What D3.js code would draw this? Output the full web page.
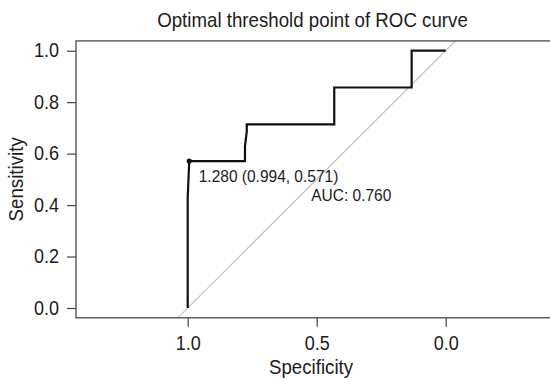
<!DOCTYPE html>
<html>
<head>
<meta charset="utf-8">
<script src="https://cdn.jsdelivr.net/npm/d3@7/dist/d3.min.js"></script>
<style>
  html, body { margin: 0; padding: 0; background: #fff; }
  svg text { font-family: "Liberation Sans", Arial, Helvetica, sans-serif; fill: #1c1c1c; }
</style>
</head>
<body>
<svg id="chart" width="550" height="379"></svg>
<script>
// ROC curve data (specificity, sensitivity)
const specificity = [1, 1, 0.994, 0.778, 0.778, 0.771, 0.771, 0.432, 0.432, 0.132, 0.132, 0];
const sensitivity = [0, 0.429, 0.571, 0.571, 0.629, 0.686, 0.714, 0.714, 0.857, 0.857, 1, 1];
const xTicks = [1.0, 0.5, 0.0];
const yTicks = [0.0, 0.2, 0.4, 0.6, 0.8, 1.0];
const threshold = { value: 1.280, spec: 0.994, sens: 0.571 };
const aucValue = 0.760;
const titleText = "Optimal threshold point of ROC curve";

const SY = 1.08; // vertical stretch of glyphs seen in the reference

const svg = d3.select("#chart");
const x = d3.scaleLinear().domain([1, 0]).range([187.7, 445.7]);
const y = d3.scaleLinear().domain([0, 1]).range([308, 50.7]);

const xMin = 1.433, xMax = -0.433, yMin = -0.038, yMax = 1.038;
const bx0 = x(xMin), bx1 = x(xMax), by0 = y(yMax), by1 = y(yMin);

svg.append("defs").append("clipPath").attr("id", "clip")
  .append("rect").attr("x", bx0).attr("y", by0).attr("width", bx1 - bx0).attr("height", by1 - by0);

function label(px, py, txt, size, anchor, rot) {
  return svg.append("text")
    .attr("transform", `translate(${px},${py})` + (rot ? ` rotate(${rot})` : "") + ` scale(1,${SY})`)
    .attr("text-anchor", anchor || "start")
    .attr("font-size", size)
    .text(txt);
}

// diagonal reference line
svg.append("line")
  .attr("clip-path", "url(#clip)")
  .attr("x1", x(1 - yMin)).attr("y1", y(yMin))
  .attr("x2", x(1 - yMax)).attr("y2", y(yMax))
  .attr("stroke", "#bdbdbd").attr("stroke-width", 1.1);

// ROC curve
const pts = specificity.map((s, i) => [s, sensitivity[i]]);
svg.append("path")
  .datum(pts)
  .attr("fill", "none")
  .attr("stroke", "#111")
  .attr("stroke-width", 2.2)
  .attr("stroke-linejoin", "miter")
  .attr("d", d3.line().x(d => x(d[0])).y(d => y(d[1])));

// threshold point
svg.append("circle")
  .attr("cx", x(threshold.spec)).attr("cy", y(threshold.sens))
  .attr("r", 2.6).attr("fill", "#111");

label(x(threshold.spec) + 9.5, y(threshold.sens) + 21,
  threshold.value.toFixed(3) + " (" + threshold.spec.toFixed(3) + ", " + threshold.sens.toFixed(3) + ")", 15.5);

label(x(0.5) - 5.5, y(0.5) + 22, "AUC: " + aucValue.toFixed(3), 15.5);

// box
svg.append("rect")
  .attr("x", bx0).attr("y", by0).attr("width", bx1 - bx0).attr("height", by1 - by0)
  .attr("fill", "none").attr("stroke", "#555").attr("stroke-width", 1.4);

// x axis
const xAxis = d3.axisBottom(x).tickValues(xTicks).tickFormat(d3.format(".1f")).tickSize(9).tickPadding(8);
const gx = svg.append("g").attr("transform", `translate(0,${by1})`).call(xAxis);
gx.select(".domain").remove();
gx.selectAll(".tick line").attr("stroke", "#444").attr("stroke-width", 1.2);
gx.selectAll(".tick text").attr("font-size", 18).attr("fill", "#1c1c1c")
  .attr("font-family", "Liberation Sans, Arial, sans-serif")
  .attr("transform", `scale(1,${SY})`);

// y axis
const yAxis = d3.axisLeft(y).tickValues(yTicks).tickFormat(d3.format(".1f")).tickSize(9).tickPadding(8);
const gy = svg.append("g").attr("transform", `translate(${bx0},0)`).call(yAxis);
gy.select(".domain").remove();
gy.selectAll(".tick line").attr("stroke", "#444").attr("stroke-width", 1.2);
gy.selectAll(".tick text").attr("font-size", 18).attr("fill", "#1c1c1c")
  .attr("font-family", "Liberation Sans, Arial, sans-serif")
  .attr("transform", `scale(1,${SY})`);

// titles
label(312.5, 26.5, titleText, 18.7, "middle");
label(311, 374, "Specificity", 18.7, "middle");
label(23, (by0 + by1) / 2, "Sensitivity", 18.7, "middle", -90);
</script>
</body>
</html>
